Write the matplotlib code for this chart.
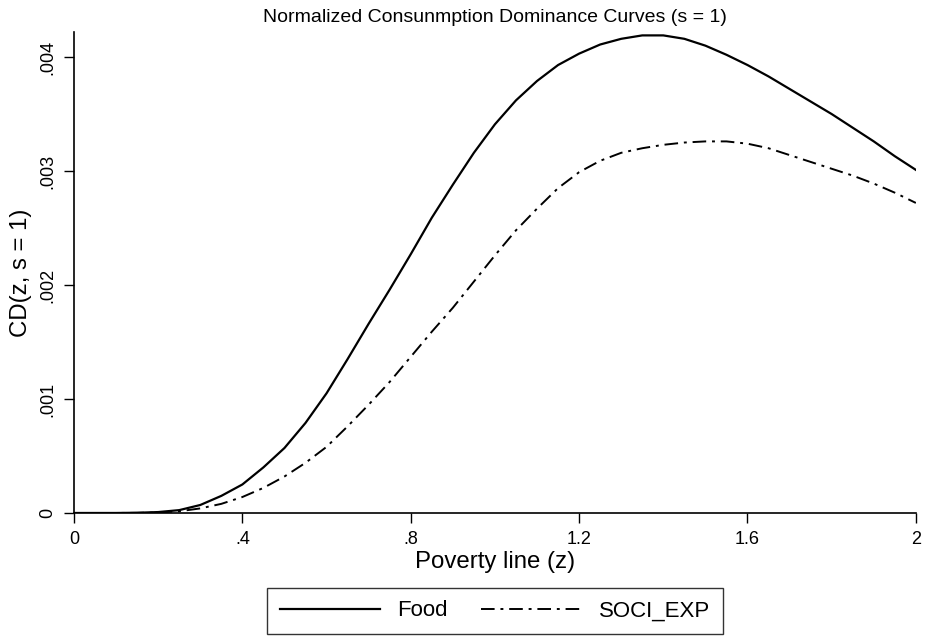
import matplotlib
matplotlib.use("Agg")
import matplotlib.pyplot as plt

plt.rcParams["font.family"] = ["Liberation Sans", "DejaVu Sans"]

# Poverty line grid and curve values
z = [0.0, 0.05, 0.1, 0.15, 0.2, 0.25, 0.3, 0.35, 0.4, 0.45, 0.5, 0.55, 0.6, 0.65,
     0.7, 0.75, 0.8, 0.85, 0.9, 0.95, 1.0, 1.05, 1.1, 1.15, 1.2, 1.25, 1.3, 1.35,
     1.4, 1.45, 1.5, 1.55, 1.6, 1.65, 1.7, 1.75, 1.8, 1.85, 1.9, 1.95, 2.0]
food = [0.0, 0.0, 0.0, 0.000002, 0.000008, 0.000025, 0.00007, 0.00015, 0.00025,
        0.00040, 0.00057, 0.00079, 0.00105, 0.00135, 0.00166, 0.00196, 0.00227,
        0.00259, 0.00288, 0.00316, 0.00341, 0.00362, 0.00379, 0.00393, 0.00403,
        0.00411, 0.00416, 0.00419, 0.00419, 0.00416, 0.00410, 0.00402, 0.00393,
        0.00383, 0.00372, 0.00361, 0.00350, 0.00338, 0.00326, 0.00313, 0.00301]
soci = [0.0, 0.0, 0.0, 0.000001, 0.000004, 0.000015, 0.00004, 0.00008, 0.00014,
        0.00022, 0.00032, 0.00044, 0.00058, 0.00076, 0.00095, 0.00115, 0.00137,
        0.00159, 0.00180, 0.00203, 0.00226, 0.00248, 0.00267, 0.00285, 0.00299,
        0.00309, 0.00316, 0.00320, 0.00323, 0.00325, 0.00326, 0.00326, 0.00324,
        0.00320, 0.00314, 0.00308, 0.00302, 0.00296, 0.00289, 0.00281, 0.00272]

xticks = [0, 0.4, 0.8, 1.2, 1.6, 2]
xtick_labels = ["0", ".4", ".8", "1.2", "1.6", "2"]
yticks = [0, 0.001, 0.002, 0.003, 0.004]
ytick_labels = ["0", ".001", ".002", ".003", ".004"]

fig = plt.figure(figsize=(9.27, 6.37), dpi=100)
ax = fig.add_axes([0.0798, 0.1947, 0.9082, 0.7551])

ax.plot(z, food, color="black", lw=1.6, label="Food")
ax.plot(z, soci, color="black", lw=1.4, dashes=[7, 3, 1.5, 3], label="SOCI_EXP")

ax.set_xlim(0, 2)
ax.set_ylim(0, 0.00422)
ax.set_xticks(xticks)
ax.set_xticklabels(xtick_labels)
ax.set_yticks(yticks)
ax.set_yticklabels(ytick_labels, rotation=90, va="center")
ax.tick_params(axis="both", direction="out", length=7, width=1, labelsize=13, pad=6)

for s in ["top", "right"]:
    ax.spines[s].set_visible(False)
for s in ["left", "bottom"]:
    ax.spines[s].set_linewidth(1.2)

ax.set_xlabel("Poverty line (z)", fontsize=17.3, labelpad=2)
ax.set_ylabel("CD(z, s = 1)", fontsize=17.3, labelpad=5)
fig.text(0.534, 0.9725, "Normalized Consunmption Dominance Curves (s = 1)",
         ha="center", va="center", fontsize=14)

fig.legend(loc="center", bbox_to_anchor=(0.534, 0.041), ncol=2,
           fontsize=16, frameon=True, fancybox=False, edgecolor="black",
           handlelength=4.5, columnspacing=1.5, borderpad=0.55,
           bbox_transform=fig.transFigure)

fig.savefig("out.png", dpi=100, facecolor="white")
